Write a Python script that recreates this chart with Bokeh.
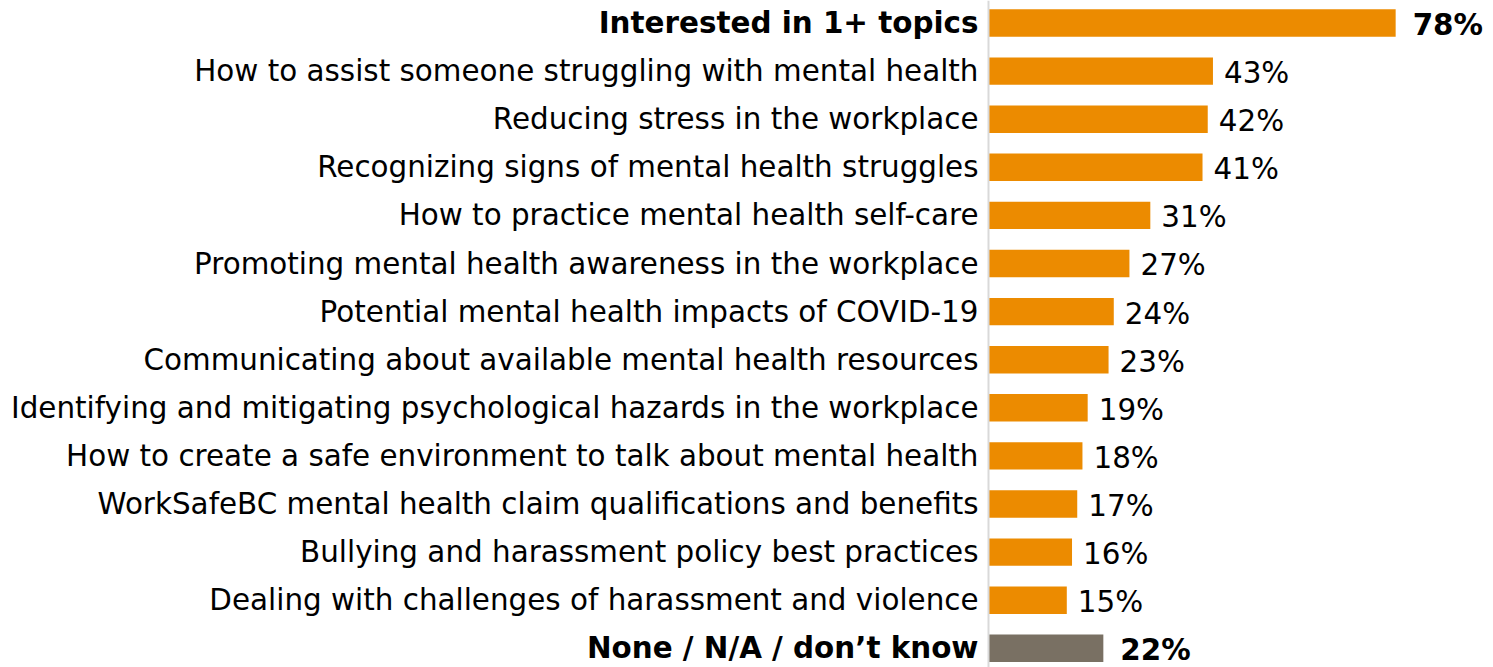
from bokeh.plotting import figure
from bokeh.models import Range1d, ColumnDataSource, Span
from bokeh.core.properties import value
from bokeh.embed import file_html
from bokeh.resources import INLINE

categories = [
    "Interested in 1+ topics",
    "How to assist someone struggling with mental health",
    "Reducing stress in the workplace",
    "Recognizing signs of mental health struggles",
    "How to practice mental health self-care",
    "Promoting mental health awareness in the workplace",
    "Potential mental health impacts of COVID-19",
    "Communicating about available mental health resources",
    "Identifying and mitigating psychological hazards in the workplace",
    "How to create a safe environment to talk about mental health",
    "WorkSafeBC mental health claim qualifications and benefits",
    "Bullying and harassment policy best practices",
    "Dealing with challenges of harassment and violence",
    "None / N/A / don\u2019t know",
]
values = [78, 43, 42, 41, 31, 27, 24, 23, 19, 18, 17, 16, 15, 22]
bold_rows = [0, 13]

ORANGE = "#EC8B00"
GRAY = "#797063"
FONT = "DejaVu Sans"

W, H = 1493, 667
axis_px = 988
scale = 5.22
step = 48.1
top_px = 22.5

fig = figure(width=W, height=H, output_backend="svg", toolbar_location=None,
             x_range=Range1d(-axis_px / scale, (W - axis_px) / scale),
             y_range=Range1d((H - top_px) / step, -top_px / step),
             min_border=0, outline_line_color=None)
fig.xaxis.visible = False
fig.yaxis.visible = False
fig.grid.visible = False

ys = list(range(len(categories)))
colors = [GRAY if i == 13 else ORANGE for i in ys]
src = ColumnDataSource(dict(y=ys, v=values, c=colors))

fig.hbar(y="y", right="v", left=0, height=0.57, fill_color="c", line_color=None, source=src)
fig.add_layout(Span(location=0, dimension="height", line_color="#D9D9D9", line_width=2))

for i in ys:
    bold = i in bold_rows
    style = "bold" if bold else "normal"
    fig.text(x=[0], y=[i], text=[categories[i]], text_align="right", text_baseline="middle",
             x_offset=-10, text_font=value(FONT), text_font_size="29.4px",
             text_font_style=style, text_color="#000000")
    fig.text(x=[values[i]], y=[i + 0.04], text=[f"{values[i]}%"], text_align="left",
             text_baseline="middle", x_offset=17 if bold else 11, text_font=value(FONT),
             text_font_size="29.4px", text_font_style=style, text_color="#000000")

open("out.html", "w").write(file_html(fig, INLINE))
